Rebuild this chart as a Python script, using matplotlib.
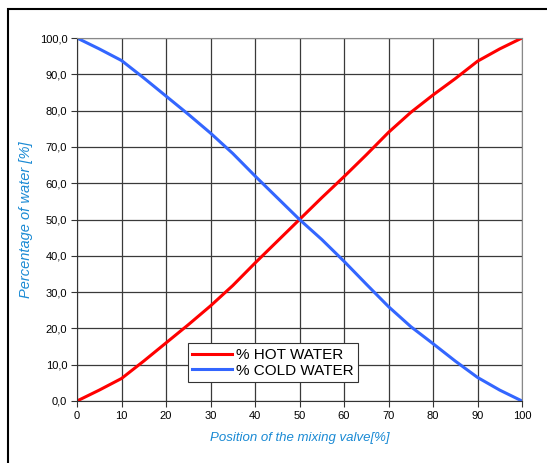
import matplotlib
matplotlib.use("Agg")
import matplotlib.pyplot as plt
from matplotlib.patches import Rectangle

positions = [0, 5, 10, 15, 20, 25, 30, 35, 40, 45, 50, 55, 60, 65, 70, 75, 80, 85, 90, 95, 100]
hot_water = [0, 3, 6.2, 11, 16, 21, 26.2, 31.8, 38, 44, 50, 56, 61.8, 67.8, 74, 79.5, 84.3, 88.8, 93.6, 97, 100]
cold_water = [100, 97, 93.8, 89, 84, 79, 73.8, 68.2, 62, 56, 50, 44.5, 38.5, 32.2, 26, 20.5, 15.8, 11, 6.5, 3, 0]
xticks = list(range(0, 101, 10))
yticks = list(range(0, 101, 10))
ytick_labels = [f"{v:.1f}".replace(".", ",") for v in yticks]

fig = plt.figure(figsize=(5.47, 4.63), dpi=100)
fig.patches.append(Rectangle((8/547, -0.1), 1.2, 1 - 9/463 + 0.1, transform=fig.transFigure,
                             fill=False, edgecolor="black", linewidth=1.5))
ax = fig.add_axes([77/547, 1 - 401/463, 445/547, 363/463])

ax.plot(positions, hot_water, color="#ff0000", linewidth=2.2, label="% HOT WATER")
ax.plot(positions, cold_water, color="#3366ff", linewidth=2.2, label="% COLD WATER")

ax.set_xlim(0, 100)
ax.set_ylim(0, 100)
ax.set_xticks(xticks)
ax.set_yticks(yticks)
ax.set_yticklabels(ytick_labels)
ax.grid(True, color="#3a3a3a", linewidth=0.9)
ax.set_axisbelow(True)
for s in ["top", "right"]:
    ax.spines[s].set_color("#888888")
for s in ["left", "bottom"]:
    ax.spines[s].set_color("#333333")
ax.tick_params(axis="both", length=4, width=0.8, labelsize=8, color="#333333", pad=3)
for lbl in ax.get_xticklabels() + ax.get_yticklabels():
    lbl.set_family("Liberation Sans")

ax.set_xlabel("Position of the mixing valve[%]", labelpad=8, family="Liberation Sans",
              style="italic", color="#1a8ad4", fontsize=9.5)
ax.set_ylabel("Percentage of water [%]", labelpad=5, family="Liberation Sans",
              style="italic", color="#1a8ad4", fontsize=10.5)

leg = ax.legend(loc="lower left", bbox_to_anchor=(0.249, 0.052), frameon=True, fancybox=False,
                edgecolor="#333333", framealpha=1, handlelength=2.6, handletextpad=0.25,
                borderpad=0.3, labelspacing=0.1, borderaxespad=0,
                prop=dict(family="Liberation Sans", size=11))
leg.get_frame().set_linewidth(0.8)

fig.savefig("out.png", dpi=100)
